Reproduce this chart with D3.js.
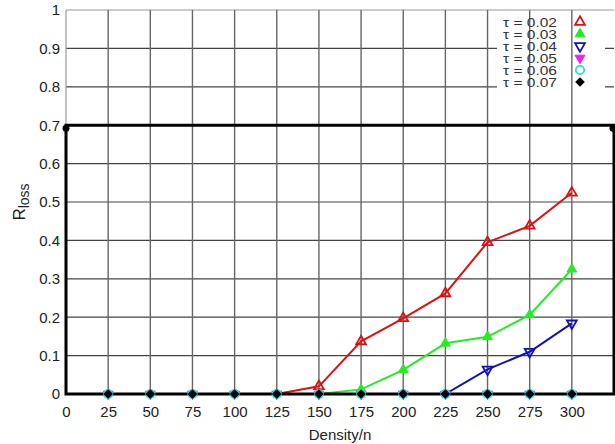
<!DOCTYPE html>
<html>
<head>
<meta charset="utf-8">
<script src="https://cdn.jsdelivr.net/npm/d3@7"></script>
<style>
  body { margin: 0; background: #fff; }
  svg { display: block; font-family: "Liberation Sans", Arial, sans-serif; }
</style>
</head>
<body>
<div id="chart"></div>
<script>
// density values on the x axis
var densities = [25, 50, 75, 100, 125, 150, 175, 200, 225, 250, 275, 300];
var xTicks = [0, 25, 50, 75, 100, 125, 150, 175, 200, 225, 250, 275, 300];
var yTicks = [0, 0.1, 0.2, 0.3, 0.4, 0.5, 0.6, 0.7, 0.8, 0.9, 1];

// R_loss for each tau
var tau002 = [0, 0, 0, 0, 0, 0.02, 0.137, 0.197, 0.262, 0.395, 0.438, 0.524];
var tau003 = [0, 0, 0, 0, 0, 0, 0.012, 0.063, 0.132, 0.149, 0.206, 0.325];
var tau004 = [0, 0, 0, 0, 0, 0, 0, 0, 0, 0.064, 0.11, 0.184];
var tau005 = [0, 0, 0, 0, 0, 0, 0, 0, 0, 0, 0, 0];
var tau006 = [0, 0, 0, 0, 0, 0, 0, 0, 0, 0, 0, 0];
var tau007 = [0, 0, 0, 0, 0, 0, 0, 0, 0, 0, 0, 0];
var legendLabels = ["τ = 0.02", "τ = 0.03", "τ = 0.04", "τ = 0.05", "τ = 0.06", "τ = 0.07"];

var width = 615, height = 444;
var svg = d3.select("#chart").append("svg")
    .attr("width", width).attr("height", height);

var x = d3.scaleLinear().domain([0, 325]).range([66, 614]);
var y = d3.scaleLinear().domain([0, 1]).range([394, 10]);

// series styling
var series = [
  {vals: tau002, color: "#dd1111", shape: "up", fill: false, zeroMarks: false},
  {vals: tau003, color: "#22ee22", shape: "up", fill: true, zeroMarks: false},
  {vals: tau004, color: "#1111bb", shape: "down", fill: false, zeroMarks: false},
  {vals: tau005, color: "#ee22ee", shape: "down", fill: true, zeroMarks: true},
  {vals: tau006, color: "#22dddd", shape: "circle", fill: false, zeroMarks: true},
  {vals: tau007, color: "#000000", shape: "diamond", fill: true, zeroMarks: true}
];

function marker(g, s, cx, cy) {
  var el;
  if (s.shape == "circle") {
    el = g.append("circle").attr("cx", cx).attr("cy", cy).attr("r", 4.2);
  } else if (s.shape == "diamond") {
    el = g.append("path").attr("d", d3.symbol(d3.symbolSquare, 34)())
      .attr("transform", "translate(" + cx + "," + cy + ")rotate(45)");
  } else {
    var rot = s.shape == "down" ? 180 : 0;
    el = g.append("path").attr("d", d3.symbol(d3.symbolTriangle, 42)())
      .attr("transform", "translate(" + cx + "," + cy + ")rotate(" + rot + ")");
  }
  el.attr("fill", s.fill ? s.color : "none")
    .attr("stroke", s.color)
    .attr("stroke-width", s.fill ? 1 : 1.8);
  return el;
}

// horizontal grid
svg.append("g").selectAll("line").data(yTicks.filter(function(d) { return d > 0; }))
  .enter().append("line")
  .attr("x1", x(0)).attr("x2", x(325))
  .attr("y1", function(d) { return y(d); }).attr("y2", function(d) { return y(d); })
  .attr("stroke", function(d) { return d == 1 ? "#999" : "#444"; })
  .attr("stroke-width", 1.2);

// white legend background
svg.append("rect").attr("x", 497).attr("y", 13).attr("width", 108).attr("height", 78)
  .attr("fill", "#fff");

// vertical grid
svg.append("g").selectAll("line").data(densities)
  .enter().append("line")
  .attr("x1", function(d) { return x(d); }).attr("x2", function(d) { return x(d); })
  .attr("y1", y(1)).attr("y2", y(0))
  .attr("stroke", "#666").attr("stroke-width", 1.4);
svg.append("line").attr("x1", x(0)).attr("x2", x(0)).attr("y1", y(1)).attr("y2", y(0.7))
  .attr("stroke", "#999").attr("stroke-width", 1.2);

// lines
var line = d3.line()
  .x(function(d, i) { return x(densities[i]); })
  .y(function(d) { return y(d); });
series.forEach(function(s) {
  svg.append("path").datum(s.vals)
    .attr("d", line)
    .attr("fill", "none")
    .attr("stroke", s.color)
    .attr("stroke-width", 2);
});

// heavy box from 0 to 0.7
svg.append("path")
  .attr("d", "M" + x(0) + "," + y(0.7) + "H" + x(325) + "V" + y(0) + "H" + x(0) + "Z")
  .attr("fill", "none").attr("stroke", "#000").attr("stroke-width", 3);
svg.append("circle").attr("cx", x(0)).attr("cy", y(0.7) + 3).attr("r", 3.5).attr("fill", "#000");
svg.append("circle").attr("cx", x(325) - 1).attr("cy", y(0.7) + 3).attr("r", 3.5).attr("fill", "#000");

// markers
series.forEach(function(s) {
  var g = svg.append("g");
  s.vals.forEach(function(v, i) {
    if (v > 0 || s.zeroMarks) marker(g, s, x(densities[i]), y(v));
  });
});

// axes
var xAxis = svg.append("g")
  .attr("transform", "translate(0," + y(0) + ")")
  .call(d3.axisBottom(x).tickValues(xTicks).tickSize(0).tickPadding(12));
xAxis.select(".domain").remove();
xAxis.selectAll("text").attr("font-size", 15).attr("fill", "#222")
  .attr("font-family", "Liberation Sans, Arial, sans-serif");

var yAxis = svg.append("g")
  .attr("transform", "translate(" + x(0) + ",0)")
  .call(d3.axisLeft(y).tickValues(yTicks).tickSize(0).tickPadding(6)
    .tickFormat(function(d) { return (d == 0 || d == 1) ? String(d) : d.toFixed(1); }));
yAxis.select(".domain").remove();
yAxis.selectAll("text").attr("font-size", 15).attr("fill", "#222")
  .attr("font-family", "Liberation Sans, Arial, sans-serif");

// axis titles
svg.append("text")
  .attr("x", (x(0) + x(325)) / 2).attr("y", 440)
  .attr("text-anchor", "middle").attr("font-size", 15).attr("fill", "#222")
  .text("Density/n");

var yl = svg.append("text")
  .attr("transform", "translate(25,202)rotate(-90)")
  .attr("text-anchor", "middle").attr("font-size", 17).attr("fill", "#222");
yl.append("tspan").text("R");
yl.append("tspan").attr("font-size", 14).attr("dy", 4).text("loss");

// legend
var leg = svg.append("g");
series.forEach(function(s, i) {
  var cy = 22 + i * 12;
  leg.append("text").attr("x", 557).attr("y", cy).attr("dy", "0.35em")
    .attr("text-anchor", "end").attr("font-size", 13).attr("fill", "#333")
    .attr("textLength", 54).attr("lengthAdjust", "spacingAndGlyphs")
    .text(legendLabels[i]);
  marker(leg, s, 580, cy);
});
</script>
</body>
</html>
